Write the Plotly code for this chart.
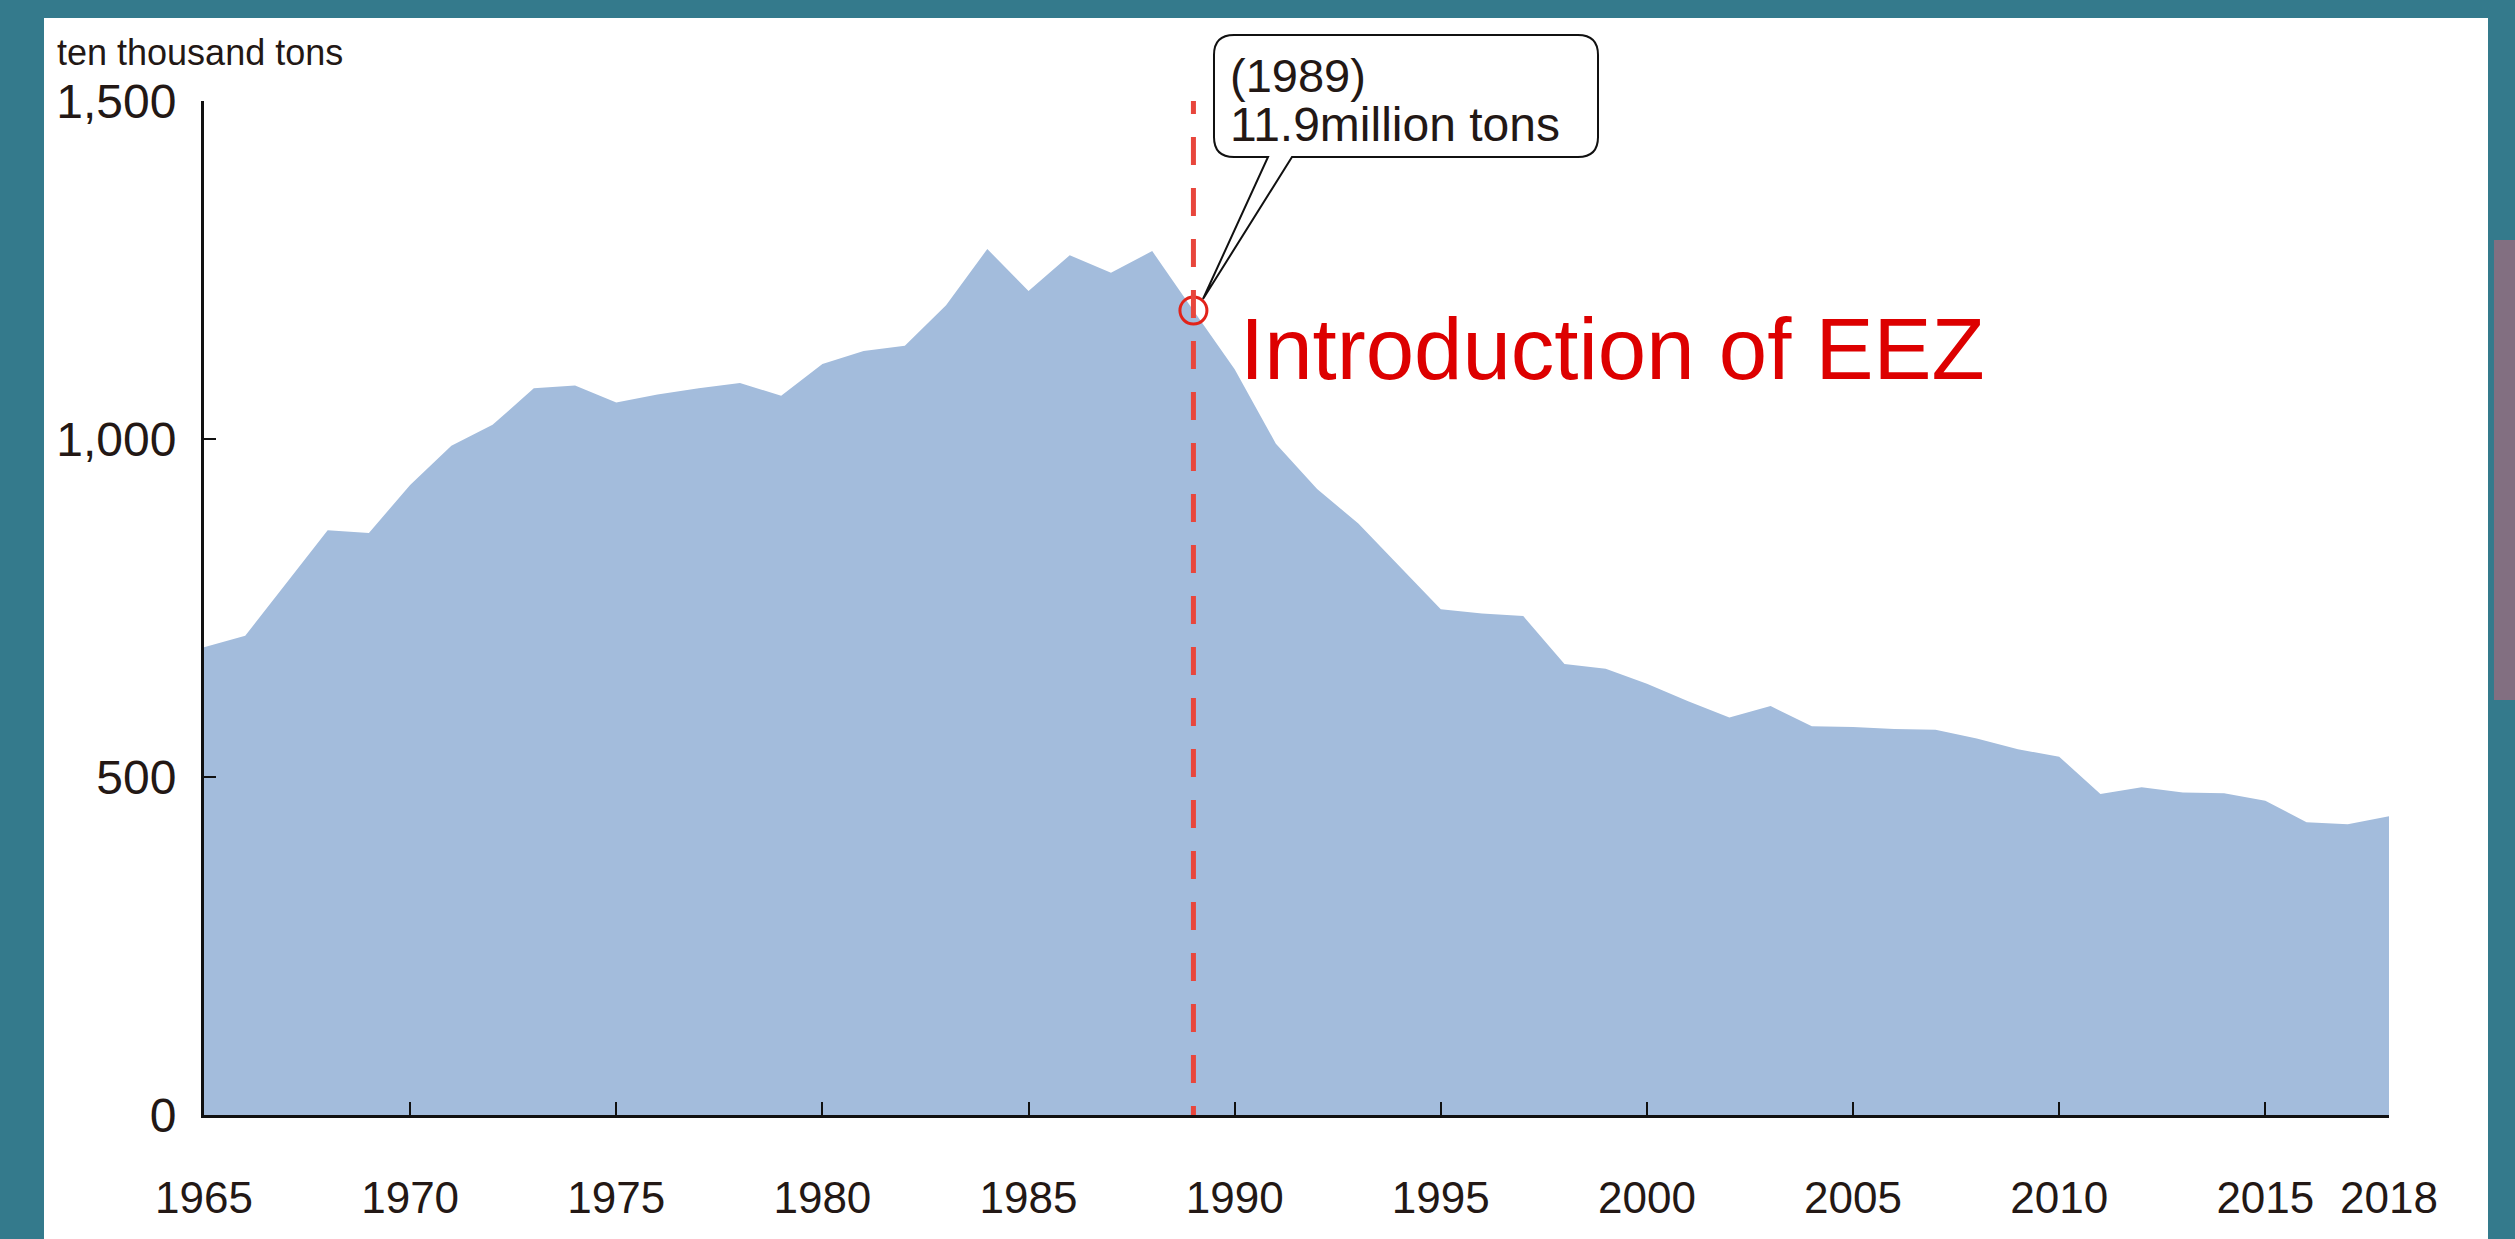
import plotly.graph_objects as go

# ---------------- data (ten thousand tons) ----------------
years = list(range(1965, 2019))
catch = [692, 709, 787, 865, 861, 932, 990, 1021, 1075, 1079,
         1054, 1066, 1075, 1083, 1064, 1111, 1130, 1138, 1198, 1281,
         1219, 1272, 1246, 1278, 1190, 1103, 993, 926, 875, 812,
         748, 742, 738, 667, 660, 638, 612, 588, 605, 575,
         574, 571, 570, 557, 541, 530, 475, 485, 477, 476,
         465, 433, 430, 442]

x_tick_vals = [1965, 1970, 1975, 1980, 1985, 1990, 1995, 2000, 2005, 2010, 2015, 2018]
x_tick_text = ["1965", "1970", "1975", "1980", "1985", "1990", "1995", "2000",
               "2005", "2010", "2015", "2018"]
y_tick_vals = [0, 500, 1000, 1500]
y_tick_text = ["0", "500", "1,000", "1,500"]

eez_year = 1989
eez_value = catch[years.index(eez_year)]
unit_label = "ten thousand tons"
callout_line1 = "(1989)"
callout_line2 = "11.9million tons"
eez_label = "Introduction of EEZ"

# ---------------- layout geometry (pixels) ----------------
W, H = 2515, 1239
PL, PR, PT, PB = 204, 2389, 101, 1115  # plot area edges


def fx(px):
    return (px - PL) / (PR - PL)


def fy(py):
    return (PB - py) / (PB - PT)


TEAL = "#347A8C"
FILL = "#A3BCDC"
RED_DASH = "#E8463C"
RED_TEXT = "#DD0000"
INK = "#231815"

fig = go.Figure()

fig.add_trace(go.Scatter(
    x=years, y=catch, mode="lines", fill="tozeroy",
    fillcolor=FILL, line=dict(width=0, color=FILL),
    hoverinfo="skip", showlegend=False,
))

fig.add_trace(go.Scatter(
    x=[eez_year], y=[eez_value], mode="markers",
    marker=dict(symbol="circle-open", size=27, color="#E2231A",
                line=dict(width=3, color="#E2231A")),
    hoverinfo="skip", showlegend=False,
))

# dash pattern phase: first partial dash then 28/23 repeats
dash_parts = ["13px", "23px"] + ["28px", "23px"] * 22
dash_str = ",".join(dash_parts)

shapes = []
# white panel
shapes.append(dict(type="rect", xref="paper", yref="paper",
                   x0=fx(44), x1=fx(2488), y0=fy(18), y1=fy(H + 5),
                   fillcolor="white", line=dict(width=0), layer="below"))
# decoration strip on right edge
shapes.append(dict(type="rect", xref="paper", yref="paper",
                   x0=fx(2494), x1=fx(2520), y0=fy(240), y1=fy(700),
                   fillcolor="#B8677A", opacity=0.6, line=dict(width=0), layer="below"))
# red dashed vertical line
shapes.append(dict(type="line", xref="x", yref="y",
                   x0=eez_year, x1=eez_year, y0=1500, y1=0,
                   line=dict(color=RED_DASH, width=5, dash=dash_str), layer="above"))

# callout box with pointer
L, R, T, B, r = 1214, 1598, 35, 157, 20
bx0, bx1, tipx, tipy = 1268, 1292, 1203, 299


def P(px, py):
    return f"{fx(px):.5f},{fy(py):.5f}"


path = (f"M {P(L + r, T)} L {P(R - r, T)} Q {P(R, T)} {P(R, T + r)} "
        f"L {P(R, B - r)} Q {P(R, B)} {P(R - r, B)} "
        f"L {P(bx1, B)} L {P(tipx, tipy)} L {P(bx0, B)} "
        f"L {P(L + r, B)} Q {P(L, B)} {P(L, B - r)} "
        f"L {P(L, T + r)} Q {P(L, T)} {P(L + r, T)} Z")
shapes.append(dict(type="path", xref="paper", yref="paper", path=path,
                   fillcolor="white", line=dict(color="#111111", width=2), layer="above"))

annotations = [
    dict(text=unit_label, xref="paper", yref="paper", x=fx(55), y=fy(52),
         xanchor="left", yanchor="middle", showarrow=False,
         font=dict(family="Liberation Sans, Arial, sans-serif", size=36, color=INK)),
    dict(text=callout_line1, xref="paper", yref="paper", x=fx(1228), y=fy(75),
         xanchor="left", yanchor="middle", showarrow=False,
         font=dict(family="Liberation Sans, Arial, sans-serif", size=47, color=INK)),
    dict(text=callout_line2, xref="paper", yref="paper", x=fx(1228), y=fy(124),
         xanchor="left", yanchor="middle", showarrow=False,
         font=dict(family="Liberation Sans, Arial, sans-serif", size=48, color=INK)),
    dict(text=eez_label, xref="paper", yref="paper", x=fx(1238), y=fy(348),
         xanchor="left", yanchor="middle", showarrow=False,
         font=dict(family="Liberation Sans, Arial, sans-serif", size=87, color=RED_TEXT)),
]

fig.update_layout(
    width=W, height=H,
    margin=dict(l=PL, r=W - PR, t=PT, b=H - PB, pad=0, autoexpand=False),
    paper_bgcolor=TEAL, plot_bgcolor="white",
    showlegend=False,
    shapes=shapes, annotations=annotations,
    xaxis=dict(range=[1965, 2018], showgrid=False, zeroline=False,
               showline=True, linecolor="#111111", linewidth=3,
               ticks="inside", ticklen=13, tickwidth=2, tickcolor="#111111",
               tickvals=x_tick_vals, ticktext=x_tick_text,
               tickfont=dict(family="Liberation Sans, Arial, sans-serif",
                             size=44, color=INK),
               ticklabelstandoff=42, fixedrange=True),
    yaxis=dict(range=[0, 1500], showgrid=False, zeroline=False,
               showline=True, linecolor="#111111", linewidth=3,
               ticks="inside", ticklen=12, tickwidth=2, tickcolor="#111111",
               tickvals=y_tick_vals, ticktext=y_tick_text,
               tickfont=dict(family="Liberation Sans, Arial, sans-serif", size=48, color=INK),
               ticklabelstandoff=15, fixedrange=True),
)

fig.write_html("out.html",
               config={"displayModeBar": False},
               post_script="document.body.style.margin='0';document.body.style.overflow='hidden';")
